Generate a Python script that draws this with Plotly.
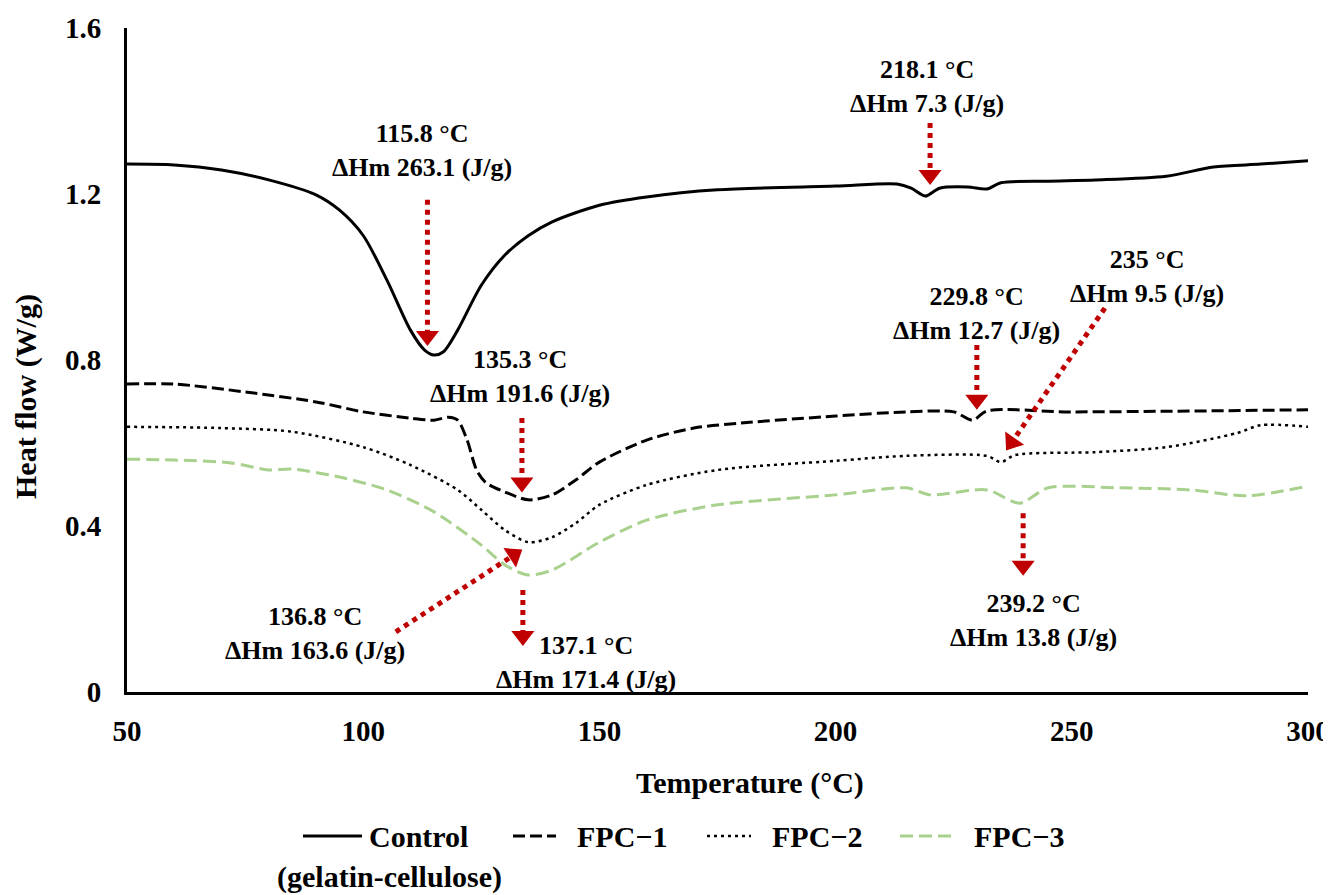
import plotly.graph_objects as go

# ---- data ----
temp_control = [50, 60, 70, 80, 90, 95, 100, 105, 110, 113, 115, 117, 120, 125, 130, 135, 140, 150, 160, 175,
                 200, 213, 216, 219, 222, 228, 232, 235, 245, 255, 270, 280, 290, 300]
hf_control = [1.272, 1.270, 1.258, 1.234, 1.198, 1.161, 1.100, 0.993, 0.872, 0.824, 0.812, 0.820, 0.872, 0.980,
              1.053, 1.100, 1.133, 1.173, 1.193, 1.210, 1.219, 1.224, 1.214, 1.195, 1.214, 1.217, 1.212, 1.227,
              1.231, 1.234, 1.243, 1.265, 1.272, 1.280]

temp_fpc1 = [50, 60, 75, 90, 100, 110, 115, 118, 120, 122, 124, 126, 130, 135, 140, 145, 150, 160, 170, 180,
             200, 215, 225, 229, 232, 250, 300]
hf_fpc1 = [0.742, 0.742, 0.723, 0.699, 0.675, 0.660, 0.655, 0.662, 0.655, 0.607, 0.535, 0.504, 0.482, 0.463,
           0.475, 0.511, 0.554, 0.607, 0.636, 0.648, 0.665, 0.675, 0.675, 0.655, 0.677, 0.675, 0.680]

temp_fpc2 = [50, 70, 85, 100, 110, 120, 125, 130, 135, 140, 145, 150, 160, 175, 200, 215, 232, 235, 238, 255,
             270, 285, 290, 300]
hf_fpc2 = [0.639, 0.636, 0.627, 0.590, 0.547, 0.487, 0.439, 0.390, 0.361, 0.373, 0.407, 0.451, 0.499, 0.535,
           0.557, 0.569, 0.569, 0.554, 0.571, 0.578, 0.590, 0.624, 0.643, 0.639]

temp_fpc3 = [50, 60, 72, 80, 85, 95, 105, 115, 125, 130, 135, 140, 150, 160, 175, 200, 215, 220, 232, 239, 245,
             260, 275, 287, 300]
hf_fpc3 = [0.561, 0.559, 0.552, 0.535, 0.537, 0.518, 0.487, 0.434, 0.354, 0.306, 0.282, 0.294, 0.361, 0.414,
           0.451, 0.475, 0.492, 0.475, 0.487, 0.455, 0.492, 0.492, 0.487, 0.473, 0.496]

# peak annotations: text, text position, arrow start, arrow head
peak_labels = ["115.8 °C<br>ΔHm 263.1 (J/g)", "135.3 °C<br>ΔHm 191.6 (J/g)", "137.1 °C<br>ΔHm 171.4 (J/g)",
               "136.8 °C<br>ΔHm 163.6 (J/g)", "229.8 °C<br>ΔHm 12.7 (J/g)", "235 °C<br>ΔHm 9.5 (J/g)",
               "239.2 °C<br>ΔHm 13.8 (J/g)", "218.1 °C<br>ΔHm 7.3 (J/g)"]
label_x = [112.4, 133.2, 147.2, 89.8, 229.9, 266.0, 241.8, 219.3]
label_y = [1.306, 0.761, 0.070, 0.140, 0.911, 1.002, 0.173, 1.460]
arrow_x0 = [113.6, 133.6, 133.8, 106.9, 229.9, 257.0, 239.7, 220.0]
arrow_y0 = [1.186, 0.660, 0.246, 0.145, 0.836, 0.925, 0.431, 1.371]
arrow_x1 = [113.6, 133.6, 133.8, 131.9, 229.9, 237.3, 239.7, 220.0]
arrow_y1 = [0.858, 0.505, 0.135, 0.330, 0.704, 0.602, 0.304, 1.246]

x_ticks = [50, 100, 150, 200, 250, 300]
y_ticks = [0, 0.4, 0.8, 1.2, 1.6]
y_tick_text = ["0", "0.4", "0.8", "1.2", "1.6"]

FONT = "Liberation Serif"
RED = "#C00000"
GREEN = "#A9D18E"


def bfont(size):
    return dict(family=FONT, size=size, color="black", weight="bold")


fig = go.Figure()
series = [
    ("Control (gelatin-cellulose)", temp_control, hf_control, "black", "solid", 3),
    ("FPC−1", temp_fpc1, hf_fpc1, "black", "12px,5px", 3),
    ("FPC−2", temp_fpc2, hf_fpc2, "black", "3px,4px", 2.5),
    ("FPC−3", temp_fpc3, hf_fpc3, GREEN, "13px,6px", 3),
]
for name, xs, ys, col, dash, w in series:
    fig.add_trace(go.Scatter(x=xs, y=ys, mode="lines", name=name, showlegend=False,
                             line=dict(color=col, dash=dash, width=w, shape="spline", smoothing=0.8)))

for i in range(len(peak_labels)):
    fig.add_trace(go.Scatter(
        x=[arrow_x0[i], arrow_x1[i]], y=[arrow_y0[i], arrow_y1[i]], mode="lines+markers",
        showlegend=False, hoverinfo="skip",
        line=dict(color=RED, width=5, dash="dot"),
        marker=dict(symbol="triangle-up", size=[0, 20], color=RED, opacity=1, angleref="previous",
                    line=dict(width=0))))
    fig.add_annotation(x=label_x[i], y=label_y[i], text=peak_labels[i], showarrow=False,
                       font=bfont(26), align="center")

# The page body has an 8px margin; figure is sized so it fills the 1331x895 window.
PAGE_OFF = 8
W, H = 1331 - PAGE_OFF, 895 - PAGE_OFF
L, R, T, B = 127 - PAGE_OFF, 23, 28 - PAGE_OFF, 203
pw, ph = W - L - R, H - T - B


def px(xp):  # window pixel -> paper x
    return (xp - PAGE_OFF - L) / pw


def py(yp):  # window pixel -> paper y
    return (PAGE_OFF + H - B - yp) / ph


# manual legend
legend_items = [
    ("Control", 303, 362, "black", "solid", 3, 367),
    ("FPC−1", 513, 556, "black", "12px,5px", 3, 575),
    ("FPC−2", 707, 751, "black", "3px,4px", 2.5, 770),
    ("FPC−3", 900, 951, GREEN, "13px,6px", 3, 972),
]
for text, x0, x1, col, dash, w, tx in legend_items:
    fig.add_shape(type="line", xref="paper", yref="paper", x0=px(x0), x1=px(x1), y0=py(836), y1=py(836),
                  line=dict(color=col, dash=dash, width=w))
    fig.add_annotation(xref="paper", yref="paper", x=px(tx), y=py(836), text=text, showarrow=False,
                       xanchor="left", yanchor="middle", font=bfont(30))
fig.add_annotation(xref="paper", yref="paper", x=px(389), y=py(877), text="(gelatin-cellulose)",
                   showarrow=False, xanchor="center", yanchor="middle", font=bfont(30))

# axis titles
fig.add_annotation(xref="paper", yref="paper", x=px(750), y=py(783), text="Temperature (°C)",
                   showarrow=False, xanchor="center", yanchor="middle", font=bfont(30))
fig.add_annotation(xref="paper", yref="paper", x=px(26), y=py(397), text="Heat flow (W/g)", textangle=-90,
                   showarrow=False, xanchor="center", yanchor="middle", font=bfont(30))

fig.update_layout(
    width=W, height=H, margin=dict(l=L, r=R, t=T, b=B, autoexpand=False),
    plot_bgcolor="white", paper_bgcolor="white",
    font=dict(family=FONT, color="black"),
    xaxis=dict(range=[50, 300], tickvals=x_ticks, showgrid=False, zeroline=False, showline=True,
               automargin=False,
               linecolor="black", linewidth=3, ticks="outside", ticklen=11, tickcolor="rgba(0,0,0,0)",
               tickfont=bfont(29)),
    yaxis=dict(range=[0, 1.6], tickvals=y_ticks, ticktext=y_tick_text, showgrid=False, zeroline=False,
               automargin=False,
               showline=True, linecolor="black", linewidth=3, ticks="outside", ticklen=17,
               tickcolor="rgba(0,0,0,0)", tickfont=bfont(29)),
)

fig.write_html("out.html")
